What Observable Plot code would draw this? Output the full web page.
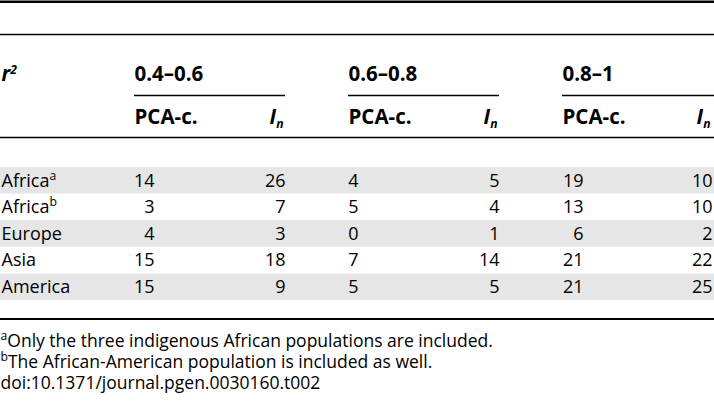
<!DOCTYPE html>
<html>
<head>
<meta charset="utf-8">
<script src="https://cdn.jsdelivr.net/npm/d3@7"></script>
<script src="https://cdn.jsdelivr.net/npm/@observablehq/plot@0.6"></script>
<style>
  html, body { margin: 0; padding: 0; background: #fff; }
  #chart svg { display: block; }
</style>
</head>
<body>
<div id="chart"></div>
<script>
// ---- data ----
const regions = ["Africa^a", "Africa^b", "Europe", "Asia", "America"];
const groups = ["0.4–0.6", "0.6–0.8", "0.8–1"];
const measures = ["PCA-c.", "I_n"];
const rowHeader = "r^2";
const pcaC = [
  [14, 3, 4, 15, 15],   // 0.4–0.6
  [4, 5, 0, 7, 5],      // 0.6–0.8
  [19, 13, 6, 21, 21]   // 0.8–1
];
const lnValues = [
  [26, 7, 3, 18, 9],
  [5, 4, 1, 14, 5],
  [10, 10, 2, 22, 25]
];
const footnotes = [
  "^aOnly the three indigenous African populations are included.",
  "^bThe African-American population is included as well.",
  "doi:10.1371/journal.pgen.0030160.t002"
];

// ---- layout (positions / styles) ----
const W = 714, H = 419;
const font = "'Open Sans', 'Noto Sans', sans-serif";
const bodySize = 18, headSize = 20.5, footSize = 17.5;
const colX = {
  label: 1,
  groupStart: [134, 348, 562],
  groupEnd: [285, 499, 714],
  pcaRight: [154, 358, 583],
  lnRight: [285, 499, 712]
};
const rowY = { top: 1.2, rule1: 34, groupMid: 74, underline: 95, subMid: 117, rule2: 137, bodyTop: 167, bodyBottom: 300, bottom: 318.5, footMid: 360.5, footStep: 21 };
const band = d3.scaleBand().domain(regions).range([rowY.bodyTop, rowY.bodyBottom]);

const cells = [];
groups.forEach((g, gi) => {
  regions.forEach((r, ri) => {
    cells.push({ x: colX.pcaRight[gi], y: band(r) + band.bandwidth() / 2, text: String(pcaC[gi][ri]) });
    cells.push({ x: colX.lnRight[gi], y: band(r) + band.bandwidth() / 2, text: String(lnValues[gi][ri]) });
  });
});
const shaded = regions.filter((r, i) => i % 2 === 0);

const svg = Plot.plot({
  width: W,
  height: H,
  margin: 0,
  x: { type: "identity", axis: null },
  y: { type: "identity", axis: null },
  style: { fontFamily: font, color: "#000", background: "#fff" },
  marks: [
    // shaded rows
    Plot.rect(shaded, { x1: 0, x2: W, y1: d => band(d), y2: d => band(d) + band.bandwidth(), fill: "#e6e6e6" }),
    // horizontal rules
    Plot.ruleY([rowY.top], { x1: 0, x2: W, stroke: "#000", strokeWidth: 2.6 }),
    Plot.ruleY([rowY.rule1], { x1: 0, x2: W, stroke: "#000", strokeWidth: 1.3 }),
    Plot.ruleY([rowY.rule2], { x1: 0, x2: W, stroke: "#000", strokeWidth: 1.3 }),
    Plot.ruleY([rowY.bottom], { x1: 0, x2: W, stroke: "#000", strokeWidth: 2 }),
    Plot.ruleY(groups, { y: () => rowY.underline, x1: (d, i) => colX.groupStart[i], x2: (d, i) => colX.groupEnd[i], stroke: "#000", strokeWidth: 1.3 }),
    // headers
    Plot.text([rowHeader], { x: colX.label, y: rowY.groupMid, text: d => d, textAnchor: "start", fontSize: headSize, fontWeight: "bold", fontStyle: "italic", fill: "#000" }),
    Plot.text(groups, { x: (d, i) => colX.groupStart[i], y: rowY.groupMid, text: d => d, textAnchor: "start", fontSize: headSize, fontWeight: "bold", fill: "#000" }),
    Plot.text(groups, { x: (d, i) => colX.groupStart[i], y: rowY.subMid, text: () => measures[0], textAnchor: "start", fontSize: headSize, fontWeight: "bold", fill: "#000" }),
    Plot.text(groups, { x: (d, i) => colX.lnRight[i] - 2, y: rowY.subMid, text: () => measures[1], textAnchor: "end", fontSize: headSize, fontWeight: "bold", fontStyle: "italic", fill: "#000" }),
    // row labels
    Plot.text(regions, { x: colX.label, y: d => band(d) + band.bandwidth() / 2, text: d => d, textAnchor: "start", fontSize: bodySize, fill: "#000" }),
    // values
    Plot.text(cells, { x: "x", y: "y", text: "text", textAnchor: "end", fontSize: bodySize, fill: "#000" }),
    // footnotes (one multi-line block)
    Plot.text([footnotes.join("\n")], { x: 0, y: rowY.footMid, text: d => d, textAnchor: "start", lineAnchor: "middle", lineHeight: rowY.footStep / footSize, fontSize: footSize, fill: "#000" })
  ]
});

// superscript / subscript markup: ^x -> superscript x, _x -> subscript x
const ns = "http://www.w3.org/2000/svg";
function toPx(v, fs) {
  if (v == null || v === "") return 0;
  const n = parseFloat(v);
  return /em$/.test(v) ? n * fs : n;
}
function markup(el, fs) {
  const t = el.textContent;
  let base = 0;
  if (el.tagName.toLowerCase() === "tspan" && el.hasAttribute("dy")) {
    base = toPx(el.getAttribute("dy"), fs);
    el.removeAttribute("dy");
  }
  el.textContent = "";
  let i = 0, shift = 0, first = true;
  const add = (txt, dy, size) => {
    const ts = document.createElementNS(ns, "tspan");
    const total = dy + (first ? base : 0);
    if (total !== 0) ts.setAttribute("dy", total);
    if (size) ts.setAttribute("font-size", size);
    ts.textContent = txt;
    el.appendChild(ts);
    first = false;
  };
  while (i < t.length) {
    const c = t[i];
    if ((c === "^" || c === "_") && i + 1 < t.length) {
      const s = c === "^" ? -0.38 * fs : 0.22 * fs;
      add(t[i + 1], s - shift, (0.68 * fs).toFixed(1));
      shift = s;
      i += 2;
    } else {
      let j = i;
      while (j < t.length && t[j] !== "^" && t[j] !== "_") j++;
      add(t.slice(i, j), -shift);
      shift = 0;
      i = j;
    }
  }
  if (shift !== 0) add("", -shift);
}
d3.select(svg).selectAll("text, tspan").each(function () {
  const el = this;
  if (el.children.length) return;
  if (!/[\^_]/.test(el.textContent)) return;
  const host = el.closest("text");
  const fs = parseFloat(getComputedStyle(host).fontSize) || bodySize;
  markup(el, fs);
});

document.getElementById("chart").appendChild(svg);
</script>
</body>
</html>
